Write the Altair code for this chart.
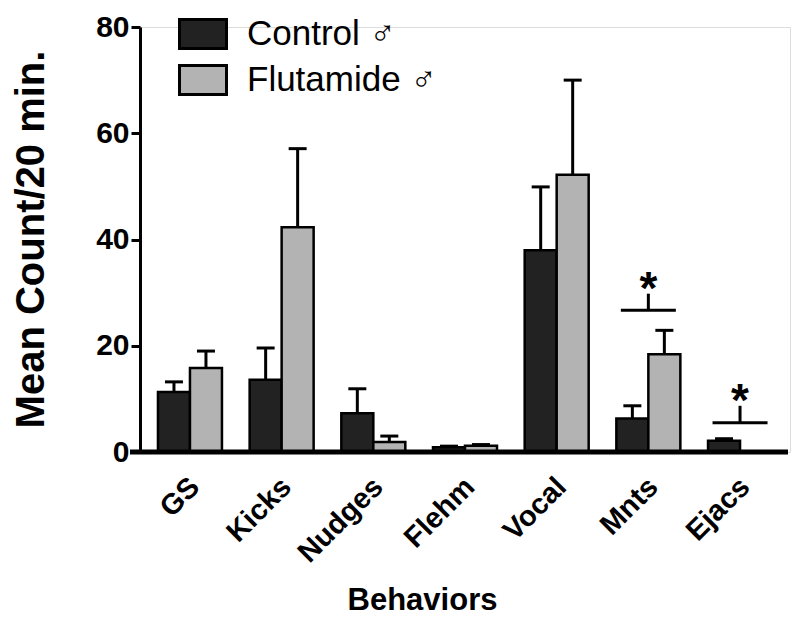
import altair as alt
import pandas as pd

behaviors = ["GS", "Kicks", "Nudges", "Flehm", "Vocal", "Mnts", "Ejacs"]
groups = ["Control ♂", "Flutamide ♂"]
control_mean = [11.3, 13.6, 7.3, 0.9, 38.0, 6.3, 2.1]
control_sem = [1.9, 6.0, 4.6, 0.2, 11.9, 2.4, 0.4]
flut_mean = [15.8, 42.3, 1.9, 1.2, 52.2, 18.4, 0.0]
flut_sem = [3.2, 14.8, 1.1, 0.2, 17.8, 4.5, 0.0]

sig_behaviors = ["Mnts", "Ejacs"]
sig_line = [26.7, 5.5]
sig_top = [29.8, 8.7]

rows = []
for i, b in enumerate(behaviors):
    rows.append({"behavior": b, "group": groups[0], "mean": control_mean[i],
                 "top": control_mean[i] + control_sem[i]})
    rows.append({"behavior": b, "group": groups[1], "mean": flut_mean[i],
                 "top": flut_mean[i] + flut_sem[i]})
df = pd.DataFrame(rows)
df = df[df["mean"] > 0]
sig = pd.DataFrame({"behavior": sig_behaviors, "line": sig_line, "top": sig_top,
                    "star": ["*", "*"]})

FONT = "Liberation Sans"

x_enc = alt.X("behavior:N", sort=behaviors,
              scale=alt.Scale(paddingInner=0.302, paddingOuter=0.196),
              axis=alt.Axis(title="Behaviors", labelAngle=-45, domain=False, ticks=False,
                            labelFont=FONT, labelFontSize=29, labelFontWeight="bold",
                            labelColor="black", labelPadding=20, labelOffset=-5,
                            titleFont=FONT, titleFontSize=31, titleFontWeight="bold",
                            titleColor="black", titleX=282, titleY=148,
                            titleBaseline="middle"))
xoff = alt.XOffset("group:N", sort=groups, scale=alt.Scale(paddingInner=0, paddingOuter=0))
y_scale = alt.Scale(domain=[0, 80], nice=False)
y_enc = alt.Y("mean:Q", scale=y_scale,
              axis=alt.Axis(title="Mean Count/20 min.", values=[0, 20, 40, 60, 80], grid=False,
                            domainColor="black", domainWidth=3, tickColor="black",
                            tickWidth=3, tickSize=9, labelFont=FONT, labelFontSize=30,
                            labelFontWeight="bold", labelColor="black", labelPadding=2,
                            titleFont=FONT, titleFontSize=40, titleFontWeight="bold",
                            titleColor="black", titleX=-109, titleY=212,
                            titleBaseline="middle"))

bars = alt.Chart(df).mark_bar(stroke="black", strokeWidth=2.5).encode(
    x=x_enc, xOffset=xoff, y=y_enc,
    fill=alt.Fill("group:N", sort=groups,
                  scale=alt.Scale(domain=groups, range=["#222222", "#b3b3b3"]),
                  legend=alt.Legend(title=None, orient="none", legendX=38, legendY=-18,
                                    symbolType="M-1,-0.62L1,-0.62L1,0.62L-1,0.62Z",
                                    symbolSize=2209, symbolStrokeColor="black",
                                    symbolStrokeWidth=3, labelFont=FONT, labelFontSize=35,
                                    labelColor="black", labelOffset=19, rowPadding=0,
                                    labelLimit=400, padding=0)),
)

stems = alt.Chart(df).mark_rule(color="black", strokeWidth=3).encode(
    x=alt.X("behavior:N", sort=behaviors), xOffset=xoff,
    y=alt.Y("mean:Q", scale=y_scale), y2="top:Q")
caps = alt.Chart(df).mark_tick(color="black", thickness=3, size=18, orient="horizontal",
                               opacity=1).encode(
    x=alt.X("behavior:N", sort=behaviors), xOffset=xoff,
    y=alt.Y("top:Q", scale=y_scale))

sig_h = alt.Chart(sig).mark_tick(color="black", thickness=3, size=55, orient="horizontal",
                                 opacity=1).encode(
    x=alt.X("behavior:N", sort=behaviors), y=alt.Y("line:Q", scale=y_scale))
sig_v = alt.Chart(sig).mark_rule(color="black", strokeWidth=3).encode(
    x=alt.X("behavior:N", sort=behaviors), y=alt.Y("line:Q", scale=y_scale), y2="top:Q")
sig_t = alt.Chart(sig).mark_text(font=FONT, fontSize=46, fontWeight="bold", color="black",
                                 baseline="alphabetic", dy=10).encode(
    x=alt.X("behavior:N", sort=behaviors), y=alt.Y("top:Q", scale=y_scale), text="star:N")

base = alt.Chart(pd.DataFrame({"z": [0]})).mark_rule(color="black", strokeWidth=5).encode(
    x=alt.value(-10), x2=alt.value(648), y=alt.Y("z:Q", scale=y_scale))

chart = alt.layer(bars, stems, caps, sig_h, sig_v, sig_t, base).properties(
    width=650, height=425,
    autosize=alt.AutoSizeParams(type="none"),
    padding={"left": 132, "top": 19, "right": 2, "bottom": 168},
).configure_view(stroke=None).configure(background="white")

chart.save("out.html", embed_options={"renderer": "svg", "actions": False})
